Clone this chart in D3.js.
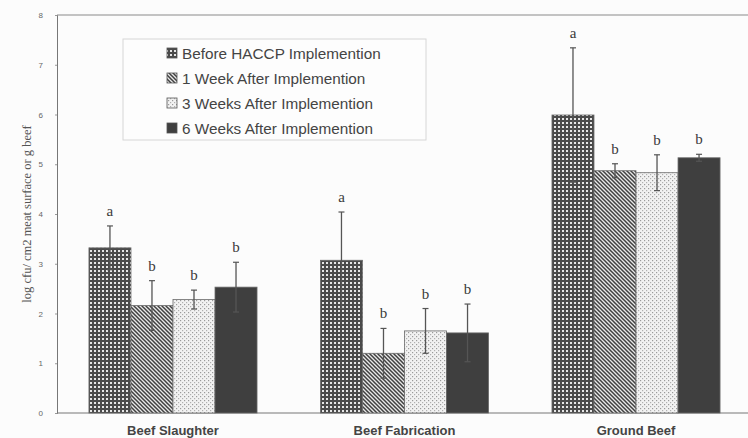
<!DOCTYPE html>
<html>
<head>
<meta charset="utf-8">
<script src="https://cdn.jsdelivr.net/npm/d3@7"></script>
<style>
  body { margin: 0; background: #fcfcfc; }
  svg { display: block; }
</style>
</head>
<body>
<div id="chart"></div>
<script>
// chart data
const groups = ["Beef Slaughter", "Beef Fabrication", "Ground Beef"];
const seriesNames = ["Before HACCP Implemention", "1 Week After Implemention",
    "3 Weeks After Implemention", "6 Weeks After Implemention"];
const beforeVals = [3.32, 3.07, 5.99];
const week1Vals = [2.16, 1.20, 4.87];
const week3Vals = [2.28, 1.65, 4.83];
const week6Vals = [2.53, 1.61, 5.13];
const beforeErr = [0.44, 0.97, 1.35];
const week1Err = [0.50, 0.50, 0.14];
const week3Err = [0.19, 0.45, 0.36];
const week6Err = [0.50, 0.58, 0.07];
const beforeLetters = ["a", "a", "a"];
const afterLetters = ["b", "b", "b"];
const yTicks = [0, 1, 2, 3, 4, 5, 6, 7, 8];

const seriesVals = [beforeVals, week1Vals, week3Vals, week6Vals];
const seriesErr = [beforeErr, week1Err, week3Err, week6Err];
const seriesLetters = [beforeLetters, afterLetters, afterLetters, afterLetters];
const fills = ["url(#pCheck)", "url(#pDiag)", "url(#pDots)", "#3f3f3f"];

const W = 748, H = 438;
const margin = { top: 15, left: 57, bottom: 25 };

const svg = d3.select("#chart").append("svg")
    .attr("width", W).attr("height", H)
    .style("background-color", "#fcfcfc");

// patterns
const defs = svg.append("defs");
let p = defs.append("pattern").attr("id", "pCheck")
    .attr("patternUnits", "userSpaceOnUse").attr("width", 4).attr("height", 4);
p.append("rect").attr("width", 4).attr("height", 4).attr("fill", "#4a4a4a");
p.append("rect").attr("x", 2).attr("y", 2).attr("width", 2).attr("height", 2).attr("fill", "#e6e6e6");

p = defs.append("pattern").attr("id", "pDiag")
    .attr("patternUnits", "userSpaceOnUse").attr("width", 4).attr("height", 4);
p.append("rect").attr("width", 4).attr("height", 4).attr("fill", "#e8e8e8");
p.append("path").attr("d", "M-1,-1 L5,5 M-1,3 L1,5 M3,-1 L5,1")
    .attr("stroke", "#404040").attr("stroke-width", 1.5);

p = defs.append("pattern").attr("id", "pDots")
    .attr("patternUnits", "userSpaceOnUse").attr("width", 4).attr("height", 4);
p.append("rect").attr("width", 4).attr("height", 4).attr("fill", "#f2f2f2");
p.append("rect").attr("x", 0).attr("y", 0).attr("width", 1.2).attr("height", 1.2).attr("fill", "#9a9a9a");
p.append("rect").attr("x", 2).attr("y", 2).attr("width", 1.2).attr("height", 1.2).attr("fill", "#b0b0b0");

// scales
const x0 = d3.scaleBand().domain(groups).range([margin.left, 752])
    .paddingInner(0.274).paddingOuter(0.138);
const x1 = d3.scaleBand().domain(d3.range(seriesNames.length)).range([0, x0.bandwidth()]);
const y = d3.scaleLinear().domain([0, 8]).range([H - margin.bottom, margin.top]);

// frame
svg.append("line").attr("x1", margin.left).attr("x2", W).attr("y1", y(8)).attr("y2", y(8))
    .attr("stroke", "#8a8a8a").attr("stroke-width", 1);
svg.append("line").attr("x1", margin.left).attr("x2", W).attr("y1", y(0)).attr("y2", y(0))
    .attr("stroke", "#777").attr("stroke-width", 1);

const yAxis = svg.append("g")
    .attr("transform", `translate(${margin.left},0)`)
    .call(d3.axisLeft(y).tickValues(yTicks).tickSize(2).tickPadding(12).tickFormat(d3.format("d")));
yAxis.select(".domain").attr("stroke", "#777");
yAxis.selectAll(".tick line").attr("stroke", "#999");
yAxis.selectAll("text").attr("fill", "#666").style("font-family", "Liberation Sans, Arial, sans-serif")
    .style("font-size", "8px");

svg.append("text")
    .attr("transform", `translate(31,${(y(0) + y(8)) / 2}) rotate(-90)`)
    .attr("text-anchor", "middle")
    .style("font-family", "Liberation Serif, Times New Roman, serif")
    .style("font-size", "12.5px").attr("fill", "#555")
    .text("log cfu/ cm2 meat surface or g beef");

// bars
seriesNames.forEach((name, s) => {
    const g = svg.append("g").attr("class", "series");
    groups.forEach((grp, i) => {
        const v = seriesVals[s][i], e = seriesErr[s][i];
        const bx = x0(grp) + x1(s), bw = x1.bandwidth();
        const cx = bx + bw / 2;
        g.append("rect")
            .attr("x", bx).attr("y", y(v))
            .attr("width", bw).attr("height", y(0) - y(v))
            .attr("fill", fills[s])
            .attr("stroke", "#6a6a6a").attr("stroke-width", 0.8);
        // error bar
        g.append("line").attr("x1", cx).attr("x2", cx).attr("y1", y(v + e)).attr("y2", y(v - e))
            .attr("stroke", "#555").attr("stroke-width", 1.3);
        [v + e, v - e].forEach(t => {
            g.append("line").attr("x1", cx - 3).attr("x2", cx + 3).attr("y1", y(t)).attr("y2", y(t))
                .attr("stroke", "#555").attr("stroke-width", 1.2);
        });
        g.append("text")
            .attr("x", cx).attr("y", y(v + e) - 10)
            .attr("text-anchor", "middle")
            .style("font-family", "Liberation Serif, Times New Roman, serif")
            .style("font-size", "15px").attr("fill", "#3a3a3a")
            .text(seriesLetters[s][i]);
    });
});

// x labels
svg.selectAll("text.xlab").data(groups).enter().append("text")
    .attr("class", "xlab")
    .attr("x", d => x0(d) + x0.bandwidth() / 2)
    .attr("y", 434.5)
    .attr("text-anchor", "middle")
    .style("font-family", "Liberation Sans, Arial, sans-serif")
    .style("font-weight", "bold").style("font-size", "13px")
    .attr("fill", "#444")
    .text(d => d);

// legend
const legend = svg.append("g");
legend.append("rect").attr("x", 123).attr("y", 39).attr("width", 303).attr("height", 101)
    .attr("fill", "#fdfdfd").attr("stroke", "#d6d6d6").attr("stroke-width", 1);
seriesNames.forEach((name, s) => {
    const ly = 53 + s * 25;
    legend.append("rect").attr("x", 167).attr("y", ly - 5).attr("width", 10).attr("height", 10)
        .attr("fill", fills[s]).attr("stroke", "#555").attr("stroke-width", 0.8);
    legend.append("text").attr("x", 182).attr("y", ly + 5.5)
        .style("font-family", "Liberation Sans, Arial, sans-serif")
        .style("font-size", "15.3px").attr("fill", "#444")
        .text(name);
});
</script>
</body>
</html>
